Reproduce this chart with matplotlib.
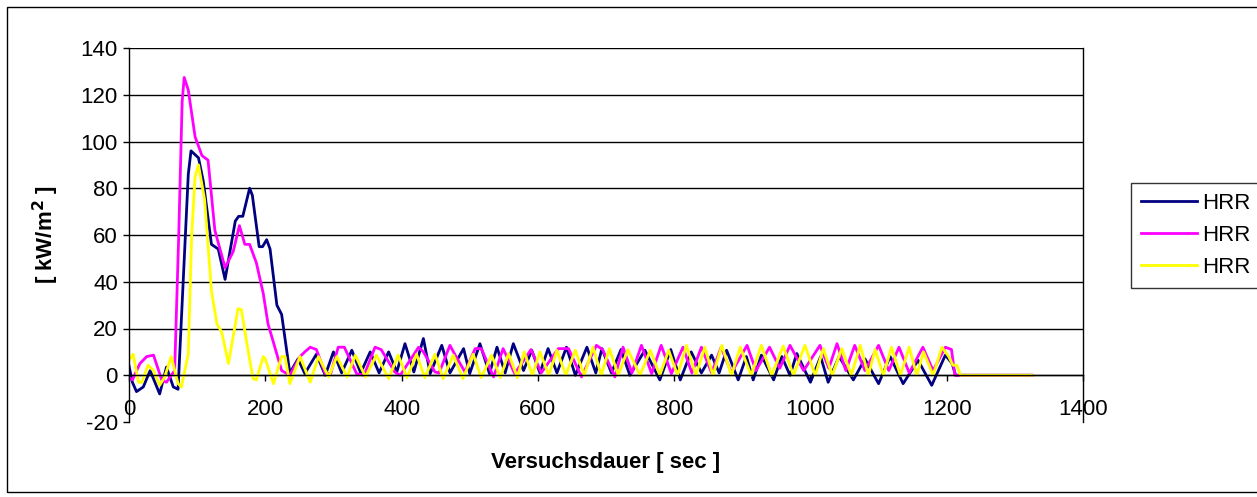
import matplotlib
matplotlib.use("Agg")
import matplotlib.pyplot as plt
from matplotlib.patches import Rectangle

plt.rcParams['font.family'] = ['Liberation Sans', 'DejaVu Sans']
plt.rcParams['axes.unicode_minus'] = False

# ---- data (time [s], HRR [kW/m2]) ----
t_blue = [0, 5, 11, 21, 31, 45, 55, 65, 72, 87, 91, 102, 109, 121, 131, 141, 156, 161, 167, 177, 181,
          191, 196, 202, 207, 217, 224, 236, 248, 258, 275, 288, 300, 312, 327, 340, 354, 367, 381,
          393, 405, 418, 432, 442, 459, 471, 491, 500, 515, 529, 540, 552, 564, 579, 591, 603, 615,
          628, 642, 655, 672, 685, 694, 708, 722, 735, 757, 779, 795, 809, 825, 840, 855, 866, 877,
          894, 906, 916, 928, 946, 958, 970, 980, 1000, 1015, 1026, 1042, 1063, 1080, 1100, 1117,
          1136, 1158, 1178, 1198, 1208, 1213, 1325]
v_blue = [4, -3, -7, -5, 2, -8, 3.5, -5, -6, 86, 96, 93, 83, 56, 54, 41, 66, 68, 68, 80, 77,
          55, 55, 58, 54, 30, 26, 1, 7, 0.7, 9, 0, 10, 1, 10.7, 1, 10, 1, 10,
          1.4, 13.5, 1.4, 15.7, 0.7, 12.8, 1, 11.4, 0.7, 13.5, 0.7, 12, 1, 13.5, 2, 10.7, 1, 11.4,
          1, 12, 0, 12, 1, 11.4, 1, 11, 0, 10.7, -2, 11, -2, 10, 1, 8.6, 1, 10.7,
          -2, 8, -2, 8.6, -2, 8, 0, 9.3, -3, 8, -3, 8, -2, 7, -3.6, 8,
          -3.6, 6.4, -4.3, 8.6, 5, 0, 0]

t_pink = [0, 5, 16, 26, 36, 48, 55, 62, 67, 73, 78, 81, 87, 97, 107, 116, 126, 141, 153, 162, 170,
          177, 187, 197, 204, 217, 224, 236, 251, 258, 266, 275, 288, 296, 307, 316, 334, 345, 361,
          370, 390, 398, 425, 432, 449, 455, 471, 478, 493, 508, 517, 535, 549, 566, 590, 605, 630,
          645, 664, 686, 695, 713, 725, 738, 752, 767, 781, 796, 813, 826, 840, 855, 869, 884, 907,
          920, 940, 955, 970, 990, 1014, 1027, 1039, 1052, 1065, 1080, 1100, 1115, 1130, 1145, 1165,
          1180, 1198, 1207, 1212, 1325]
v_pink = [-1, -2, 5, 8, 8.6, -2, -3, 0, 2, 60, 117, 127.4, 122, 102, 94, 92, 62, 46, 53, 64, 56,
          56, 48, 35, 22, 9, 2, 0, 8, 10, 12, 11, 0.7, 0.7, 12, 12, 0.7, 0, 12,
          11, 1.4, 0, 12, 10, 1.4, 1, 12.8, 9, 1.4, 11.4, 11.4, -0.7, 11.4, 0.7, 11, 1, 11.4,
          11.4, -0.7, 12.8, 11, -0.7, 12, 1, 12.8, 0.7, 12.8, 0.7, 12, 1, 12, 1, 12, 1, 12.8,
          2, 12, 3, 12.8, 2, 12.8, 3, 13.5, 2, 12.8, 2, 12.8, 2, 12, 1, 12,
          2, 12, 11, 0, 0]

t_yel = [0, 6, 14, 19, 28, 36, 45, 52, 62, 72, 77, 84, 87, 92, 97, 102, 111, 121, 129, 136, 146,
         160, 165, 173, 182, 187, 197, 200, 212, 224, 229, 236, 251, 266, 278, 293, 305, 320, 332,
         347, 363, 381, 395, 408, 422, 434, 449, 461, 476, 490, 505, 517, 532, 545, 557, 570, 580,
         592, 603, 616, 628, 641, 655, 668, 681, 693, 705, 718, 732, 750, 765, 779, 792, 805, 818,
         832, 845, 857, 870, 884, 897, 913, 928, 943, 960, 975, 992, 1007, 1019, 1032, 1046, 1060,
         1073, 1085, 1095, 1107, 1119, 1132, 1145, 1156, 1166, 1180, 1193, 1203, 1209, 1215, 1220, 1325]
v_yel = [6.4, 9, -3, -3, 4.3, 2, -4.3, -1, 8, -3.6, -5, 5, 9, 60, 85, 90, 75, 36, 22, 18.5, 5,
         28.5, 28, 13.5, -1.4, -2, 8, 7, -3.6, 8, 8, -3.6, 8, -3, 8, -0.7, 8, -0.7, 8.6,
         -0.7, 8.6, -1.4, 8.6, -1, 9, -1, 9, -1.4, 8.6, -1.4, 9, -1, 8.6, -1, 9.3, -1, 10,
         0, 10, 0, 10.7, 0, 10.7, 0, 12, 0, 11.4, 0, 11, 0, 10.7, 0, 10.7, 0, 12.8,
         0, 12, 0, 12.8, 0, 12, 0, 12.8, 0, 12.5, 0, 12.8, 0, 11.4, 0, 11.4, 0,
         12.8, 0, 11, 0, 12, 0, 12, 0, 10, 0, 12, 8, 4.3, 4.3, 0, 0]

series_labels = ['HRR', 'HRR', 'HRR']
x_ticks = [0, 200, 400, 600, 800, 1000, 1200, 1400]
y_ticks = [-20, 0, 20, 40, 60, 80, 100, 120, 140]

W, H = 1257, 497
FS = 16
fig = plt.figure(figsize=(W / 100, H / 100), dpi=100)
ax = fig.add_axes([129 / W, 1 - 422 / H, (1083 - 129) / W, (422 - 48) / H])

lw = 2.0
ax.plot(t_blue, v_blue, color='#000080', lw=lw, label=series_labels[0], solid_joinstyle='round')
ax.plot(t_pink, v_pink, color='#FF00FF', lw=lw, label=series_labels[1], solid_joinstyle='round')
ax.plot(t_yel, v_yel, color='#FFFF00', lw=lw, label=series_labels[2], solid_joinstyle='round')

ax.set_xlim(0, 1400)
ax.set_ylim(-20, 140)
ax.set_xticks(x_ticks)
ax.set_yticks(y_ticks)
# horizontal gridlines (not at the bottom edge)
for yv in y_ticks:
    if yv > -20:
        ax.axhline(yv, color='black', lw=1, zorder=0.5)

ax.spines['bottom'].set_position(('data', 0))
for s in ['left', 'bottom', 'right', 'top']:
    ax.spines[s].set_color('black')
    ax.spines[s].set_linewidth(1)
ax.spines['top'].set_visible(False)

ax.tick_params(axis='x', direction='out', length=4, width=1, pad=13, labelsize=FS)
ax.tick_params(axis='y', direction='out', length=4, width=1, pad=4, labelsize=FS)

ax.set_xlabel('Versuchsdauer [ sec ]', fontsize=FS, fontweight='bold', va='top')
ax.xaxis.set_label_coords(0.5, -0.08)
ax.set_ylabel('[ kW/m$^\\mathbf{2}$ ]', fontsize=FS, fontweight='bold')
ax.yaxis.set_label_coords(-0.071, 0.5)

leg = fig.legend(loc='upper left', bbox_to_anchor=(1131 / W, 1 - 183 / H),
                 fontsize=FS, frameon=True, fancybox=False, edgecolor='black',
                 handlelength=2.5, handletextpad=0.25, labelspacing=0.49,
                 borderpad=0.45, borderaxespad=0)
leg.get_frame().set_linewidth(1)

# outer chart border
fig.patches.append(Rectangle((7 / W, 1 - 492 / H), (1260 - 7) / W, (492 - 7) / H,
                             transform=fig.transFigure, fill=False, edgecolor='black', lw=1))

fig.savefig('out.png', dpi=100)
